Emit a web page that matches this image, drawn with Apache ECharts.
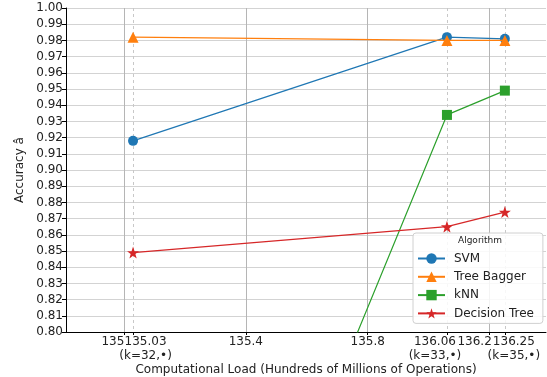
<!DOCTYPE html>
<html>
<head>
<meta charset="utf-8">
<script src="https://cdn.jsdelivr.net/npm/echarts@6/dist/echarts.min.js"></script>
<style>
  html, body { margin: 0; padding: 0; background: #fff; }
  #chart { width: 547px; height: 377px; }
</style>
</head>
<body>
<div id="chart"></div>
<script>
// Computational load (hundreds of millions of operations) for each k setting
const loads = [135.03, 136.06, 136.25];
const loadTickLabels = ['135.03\n(k=32,•)', '136.06\n(k=33,•)', '136.25\n(k=35,•)'];
const majorTicks = [135, 135.4, 135.8, 136.2];
const majorTickLabels = ['135', '135.4', '135.8', '136.2'];

// Accuracy per algorithm
const svm = [0.918, 0.982, 0.981];
const treeBagger = [0.982, 0.980, 0.980];
const knn = [0.463, 0.934, 0.949];
const decisionTree = [0.849, 0.865, 0.874];

const seriesNames = ['SVM', 'Tree Bagger', 'kNN', 'Decision Tree'];
const seriesValues = [svm, treeBagger, knn, decisionTree];
const colors = ['#1f77b4', '#ff7f0e', '#2ca02c', '#d62728'];
const STAR = 'path://M50,0 L61.8,35.1 L98.1,35.1 L68.8,56.8 L79.4,91 L50,70 L20.6,91 L31.2,56.8 L1.9,35.1 L38.2,35.1 Z';
const symbols = ['circle', 'triangle', 'rect', STAR];
const symbolSizes = [10, 11, 10, 12];

const FONT = 'DejaVu Sans';
const TEXT = '#222';
const X_MIN = 134.81, X_MAX = 136.385;

// Horizontal nudge (px) for tick labels that would otherwise collide
const labelShift = {
  '135': -11, '135.4': 0, '135.8': 0, '136.2': -15,
  '135.03': 12.5, '136.06': -12, '136.25': 9
};
const richKeys = Object.keys(labelShift);
const rich = {};
richKeys.forEach((k, i) => {
  const d = labelShift[k];
  rich['s' + i] = {
    fontFamily: FONT, fontSize: 12, color: TEXT, lineHeight: 14,
    padding: d < 0 ? [0, -2 * d, 0, 0] : [0, 0, 0, 2 * d]
  };
});
function shiftedLabel(text) {
  const idx = richKeys.indexOf(text.split('\n')[0]);
  return text.split('\n').map(line => '{s' + idx + '|' + line + '}').join('\n');
}

// One label-only x axis per group of ticks, so padded label boxes never hide each other
function labelAxis(values, texts, opts) {
  return Object.assign({
    type: 'value',
    min: X_MIN,
    max: X_MAX,
    position: 'bottom',
    axisLine: { show: false },
    axisTick: { show: true, length: 3, customValues: values, lineStyle: { color: '#000' } },
    axisLabel: {
      customValues: values,
      margin: 3,
      showMinLabel: true,
      showMaxLabel: true,
      hideOverlap: false,
      formatter: v => {
        const i = values.findIndex(t => Math.abs(t - v) < 1e-6);
        return i < 0 ? '' : shiftedLabel(texts[i]);
      },
      rich: rich
    },
    splitLine: { show: false }
  }, opts || {});
}

const chart = echarts.init(document.getElementById('chart'), null, { renderer: 'canvas' });

const series = seriesNames.map((name, i) => ({
  name: name,
  type: 'line',
  xAxisIndex: 0,
  data: loads.map((x, j) => [x, seriesValues[i][j]]),
  symbol: symbols[i],
  symbolSize: symbolSizes[i],
  showSymbol: true,
  clip: true,
  color: colors[i],
  lineStyle: { width: 1.2, color: colors[i] },
  itemStyle: { color: colors[i] },
  emphasis: { disabled: true },
  z: 3 + i
}));

chart.setOption({
  animation: false,
  backgroundColor: '#fff',
  textStyle: { fontFamily: FONT },
  grid: { left: 66, right: 1, top: 8, bottom: 45, containLabel: false, outerBoundsMode: 'none' },
  xAxis: [
    labelAxis(majorTicks, majorTickLabels, {
      name: 'Computational Load (Hundreds of Millions of Operations)',
      nameLocation: 'middle',
      nameGap: 32,
      nameTextStyle: { fontFamily: FONT, fontSize: 12, color: TEXT },
      axisLine: { show: true, lineStyle: { color: '#000', width: 1 } },
      splitLine: { show: true, lineStyle: { color: '#b5b5b5', width: 1 } }
    }),
    labelAxis(loads.slice(0, 2), loadTickLabels.slice(0, 2), {
      splitLine: { show: true, lineStyle: { color: '#c8c8c8', width: 1, type: [3, 3] } }
    }),
    labelAxis(loads.slice(2), loadTickLabels.slice(2), {
      splitLine: { show: true, lineStyle: { color: '#c8c8c8', width: 1, type: [3, 3] } }
    })
  ],
  yAxis: {
    type: 'value',
    min: 0.8,
    max: 1.0,
    interval: 0.01,
    name: 'Accuracy â',
    nameLocation: 'middle',
    nameGap: 36,
    nameRotate: 90,
    nameTextStyle: { fontFamily: FONT, fontSize: 12, color: TEXT },
    axisLine: { show: true, lineStyle: { color: '#000', width: 1 } },
    axisTick: { show: true, length: 4, lineStyle: { color: '#000' } },
    axisLabel: {
      fontFamily: FONT, fontSize: 12, color: TEXT, margin: 3,
      formatter: v => v.toFixed(2)
    },
    splitLine: { show: true, lineStyle: { color: '#d3d3d3', width: 1.2 } }
  },
  legend: {
    data: seriesNames,
    orient: 'vertical',
    left: 413,
    top: 233,
    padding: [19.5, 9, 4, 4],
    itemWidth: 27,
    itemHeight: 13,
    itemGap: 6.3,
    backgroundColor: 'rgba(255,255,255,0.85)',
    borderColor: '#d0d0d0',
    borderWidth: 1,
    borderRadius: 3,
    textStyle: { fontFamily: FONT, fontSize: 12, color: TEXT, padding: [0, 0, 0, 4] },
    selectedMode: false,
    z: 10
  },
  graphic: [{
    type: 'text',
    left: 458,
    top: 236,
    z: 100,
    style: { text: 'Algorithm', fontFamily: FONT, fontSize: 9, fill: TEXT }
  }],
  series: series
});
</script>
</body>
</html>
